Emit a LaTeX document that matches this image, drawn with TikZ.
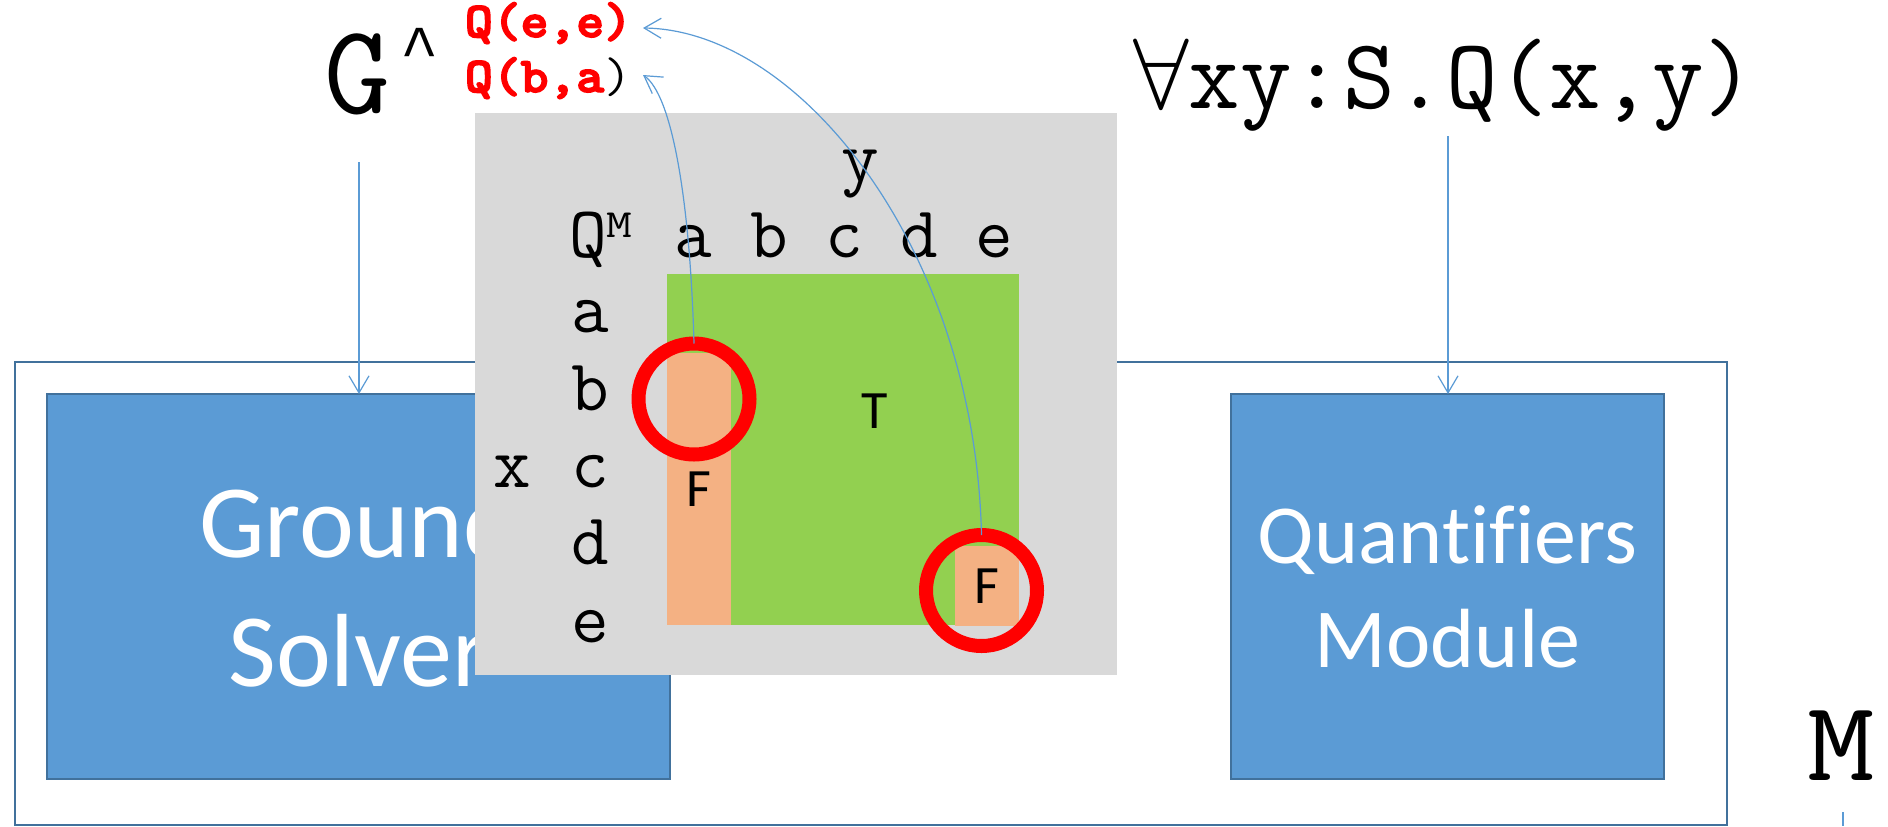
\documentclass[tikz,border=0pt]{standalone}
\usepackage{fix-cm}
\usepackage{graphicx}
\usepackage{fontspec}
\setmainfont{Carlito}[Ligatures=CommonOff]
\newfontfamily\libmono{Liberation Mono}
\newfontfamily\heavymono{lmmonolt10-bold.otf}[FakeBold=3]
\usetikzlibrary{arrows.meta}
\definecolor{boxblue}{HTML}{5B9BD5}
\definecolor{edgeblue}{HTML}{41719C}
\definecolor{greybg}{HTML}{D9D9D9}
\definecolor{tgreen}{HTML}{92D050}
\definecolor{salmon}{HTML}{F4B183}
\definecolor{lineblue}{HTML}{5B9BD5}
\definecolor{redmark}{HTML}{FF0000}
\begin{document}
\begin{tikzpicture}[x=0.5pt,y=-0.5pt,
  module/.style={draw=edgeblue,fill=boxblue,line width=1pt,inner sep=0pt,outer sep=0pt,text=white,align=center},
  conn/.style={draw=lineblue,line width=0.6pt,-{Straight Barb[length=8.5pt,width=10pt,line width=0.6pt]}},
  mono/.style={inner sep=0pt,outer sep=0pt,anchor=base,font=\ttfamily\fontsize{36.5}{40}\selectfont},
  redtxt/.style={inner sep=0pt,outer sep=0pt,anchor=base west,text=redmark,font=\heavymono\fontsize{25}{28}\selectfont},
  tf/.style={inner sep=0pt,font=\fontsize{27}{30}\selectfont},
  ring/.style={circle,draw=redmark,line width=7pt,minimum size=55.5pt,inner sep=0pt,outer sep=0pt},
  patch/.style={inner sep=0pt,outer sep=0pt}]
\useasboundingbox (0,0) rectangle (1888,826);
\fill[white] (0,0) rectangle (1888,826);

% outer frame
\node (frame) [patch,draw=edgeblue,line width=1pt,minimum width=856pt,minimum height=231.5pt] at (871,593.5) {};

% modules
\node (ground) [module,minimum width=311.5pt,minimum height=192.5pt,font=\fontsize{52}{64.5}\selectfont] at (358.5,586.5) {Ground\\Solver};
\node (quant) [module,minimum width=216.5pt,minimum height=192.5pt,font=\fontsize{42}{52}\selectfont] at (1447.5,586.5) {Quantifiers\\Module};

% top texts
\node (gtext) [mono,font=\ttfamily\fontsize{64}{70}\selectfont] at (357.5,113) {G};
\node (caret) [inner sep=0pt,anchor=north,font=\libmono\fontsize{32}{36}\selectfont] at (420,28) {\textasciicircum};
\node (qee) [redtxt] at (465,37) {\scalebox{1.06}[1]{Q(e,e)}};
\node (qba) [redtxt] at (465,92) {\scalebox{1.06}[1]{Q(b,a\textcolor{black}{\ttfamily)}}};
\node (formula) [inner sep=0pt,anchor=base west,font=\ttfamily\fontsize{50}{56}\selectfont] at (1133,108) {$\forall$xy:S.Q(x,y)};

\coordinate (gsrc) at (359,162);
\coordinate (fsrc) at (1448,136);
\draw[conn] (gsrc) -- (gsrc |- ground.north);
\draw[conn] (fsrc) -- (fsrc |- quant.north);

% model table
\node (grid) [patch,fill=greybg,minimum width=321pt,minimum height=281pt] at (796,394) {};
\node (tblock) [patch,fill=tgreen,minimum width=176pt,minimum height=175.5pt] at (843,449.5) {};
\node (fcol) [patch,tf,fill=salmon,minimum width=32pt,minimum height=136pt] at (699,489) {F};
\node (fcell) [patch,tf,fill=salmon,minimum width=32pt,minimum height=40pt] at (987,586) {F};
\node (tlabel) [tf] at (875,411) {T};

\node (ylab) [mono] at (860,181) {y};
\node (qm) [mono,anchor=base west] at (569,257) {Q\raisebox{10pt}{\fontsize{20}{22}\selectfont\scalebox{1.25}[1]{M}}};
\node (cols) [mono] at (844,257) {a b c d e};
\foreach \c/\y in {a/332,b/410,c/487,d/564,e/642}
  \node (row\c) [mono] at (590,\y) {\c};
\node (xlab) [mono] at (512,487) {x};

% rings
\node (ringba) [ring] at (694,399) {};
\node (ringee) [ring] at (981.5,590.5) {};

% curved connectors
\coordinate (tipba) at (643,75);
\coordinate (tipee) at (643,28);
\draw[conn] (ringba.north) .. controls (690,200) and (672,95) .. (tipba);
\draw[conn] (ringee.north) .. controls (975,250) and (800,30) .. (tipee);

% M at bottom right
\node (mlabel) [mono,font=\ttfamily\fontsize{57}{60}\selectfont] at (1841,780) {\scalebox{1.15}[1]{M}};
\coordinate (mout) at (1843,812);
\coordinate (mend) at (1843,826);
\draw[lineblue,line width=1pt] (mout) -- (mend);
\end{tikzpicture}
\end{document}
